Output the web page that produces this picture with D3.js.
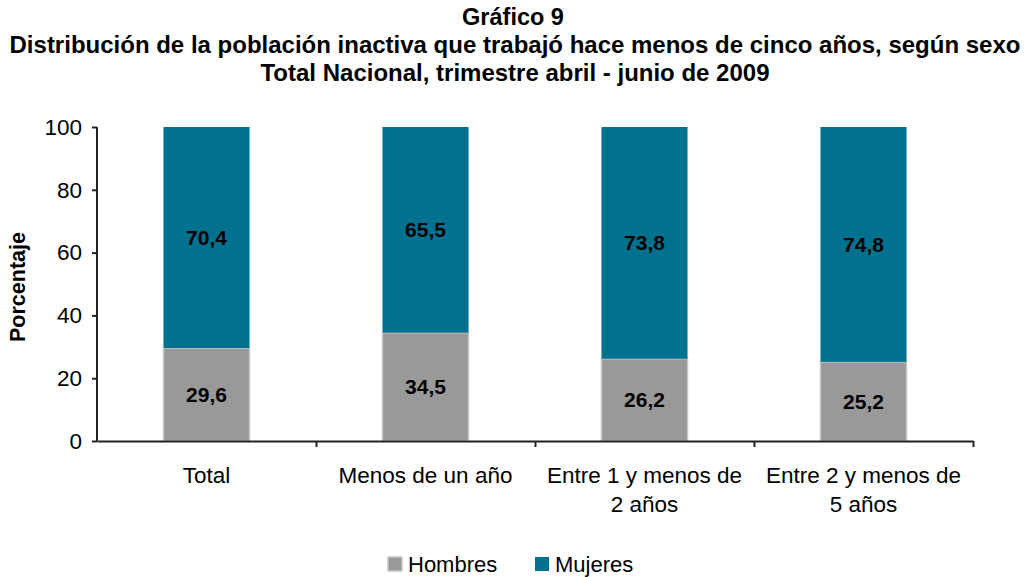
<!DOCTYPE html>
<html>
<head>
<meta charset="utf-8">
<script src="https://cdn.jsdelivr.net/npm/d3@7"></script>
<style>
  body { margin: 0; background: #fff; }
  svg text { font-family: "Liberation Sans", Arial, sans-serif; fill: #000; }
</style>
</head>
<body>
<svg id="chart" width="1025" height="577"></svg>
<script>
'use strict'

const categories = [['Total'], ['Menos de un año'], ['Entre 1 y menos de', '2 años'], ['Entre 2 y menos de', '5 años']]
const hombres = [29.6, 34.5, 26.2, 25.2]
const mujeres = [70.4, 65.5, 73.8, 74.8]
const yTicks = [0, 20, 40, 60, 80, 100]
const seriesNames = ['Hombres', 'Mujeres']
const colors = ['#999999', '#00728f']

const margins = {top: 127, left: 97, right: 52, bottom: 136}
const width = 1025, height = 577
const chartWidth = width - margins.left - margins.right
const chartHeight = height - margins.top - margins.bottom

const svg = d3.select('#chart')

// title
const titles = ['Gráfico 9',
  'Distribución de la población inactiva que trabajó hace menos de cinco años, según sexo',
  'Total Nacional, trimestre abril - junio de 2009']
svg.selectAll('text.title')
  .data(titles)
  .enter().append('text')
  .attr('x', (d, i) => i === 0 ? 513 : 515)
  .attr('y', (d, i) => 25 + i * 28)
  .attr('text-anchor', 'middle')
  .style('font-size', (d, i) => i === 0 ? '23.5px' : '24px')
  .style('font-weight', 'bold')
  .text(d => d)

const g = svg.append('g').attr('transform', 'translate(' + margins.left + ',' + margins.top + ')')

const x = d3.scaleBand().domain(d3.range(categories.length)).range([0, chartWidth]).paddingInner(0.607).paddingOuter(0.3035)
const y = d3.scaleLinear().domain([0, 100]).range([chartHeight, 0])

const stacked = d3.stack().keys([0, 1])(hombres.map((h, i) => [h, mujeres[i]]))

const layers = g.selectAll('g.layer')
  .data(stacked)
  .enter().append('g')
  .attr('fill', (d, i) => colors[i])

layers.selectAll('rect')
  .data(d => d)
  .enter().append('rect')
  .attr('x', (d, i) => x(i))
  .attr('width', x.bandwidth())
  .attr('y', d => y(d[1]))
  .attr('height', d => y(d[0]) - y(d[1]))
  .attr('stroke', (d, i, n) => d3.select(n[i].parentNode).datum().key === 0 ? '#c8c8c8' : 'none')
  .attr('stroke-width', 1.5)

layers.selectAll('text')
  .data(d => d)
  .enter().append('text')
  .attr('x', (d, i) => x(i) + x.bandwidth() / 2)
  .attr('y', d => (y(d[0]) + y(d[1])) / 2)
  .attr('dy', '0.35em')
  .attr('text-anchor', 'middle')
  .style('font-size', '21px')
  .style('font-weight', 'bold')
  .text(d => d3.format('.1f')(d[1] - d[0]).replace('.', ','))

// y axis
const yAxis = g.append('g')
  .call(d3.axisLeft(y).tickValues(yTicks).tickSize(5).tickPadding(10))
yAxis.selectAll('path, line').attr('stroke', '#222').attr('stroke-width', 2)
yAxis.select('path').attr('d', 'M0,' + chartHeight + 'V0')
yAxis.selectAll('text').style('font-size', '22.5px').style('font-family', '"Liberation Sans", Arial, sans-serif')

// x axis with ticks at category boundaries
const xb = d3.scaleLinear().domain([0, categories.length]).range([0, chartWidth])
const xAxis = g.append('g')
  .attr('transform', 'translate(0,' + chartHeight + ')')
  .call(d3.axisBottom(xb).ticks(categories.length).tickFormat('').tickSize(6).tickSizeOuter(0))
xAxis.selectAll('path, line').attr('stroke', '#222').attr('stroke-width', 2)
xAxis.select('.tick').remove()

g.selectAll('text.cat')
  .data(categories)
  .enter().append('text')
  .attr('class', 'cat')
  .attr('x', (d, i) => x(i) + x.bandwidth() / 2)
  .attr('y', chartHeight + 42)
  .attr('text-anchor', 'middle')
  .style('font-size', '22.5px')
  .selectAll('tspan')
  .data(d => d)
  .enter().append('tspan')
  .attr('x', function () { return d3.select(this.parentNode).attr('x') })
  .attr('dy', (d, i) => i === 0 ? 0 : 29)
  .text(d => d)

// y label
svg.append('text')
  .attr('transform', 'translate(25,287) rotate(-90)')
  .attr('text-anchor', 'middle')
  .style('font-size', '21.5px')
  .style('font-weight', 'bold')
  .text('Porcentaje')

// legend
const legend = svg.append('g').attr('transform', 'translate(388,557)')
const items = legend.selectAll('g')
  .data(seriesNames)
  .enter().append('g')
  .attr('transform', (d, i) => 'translate(' + (i * 147) + ',0)')
items.append('rect')
  .attr('width', 14).attr('height', 14)
  .attr('fill', (d, i) => colors[i])
  .attr('stroke', (d, i) => i === 0 ? '#c8c8c8' : 'none')
  .attr('stroke-width', 1.5)
items.append('text')
  .attr('x', 20).attr('y', 7).attr('dy', '0.35em')
  .style('font-size', '22px')
  .text(d => d)
</script>
</body>
</html>
